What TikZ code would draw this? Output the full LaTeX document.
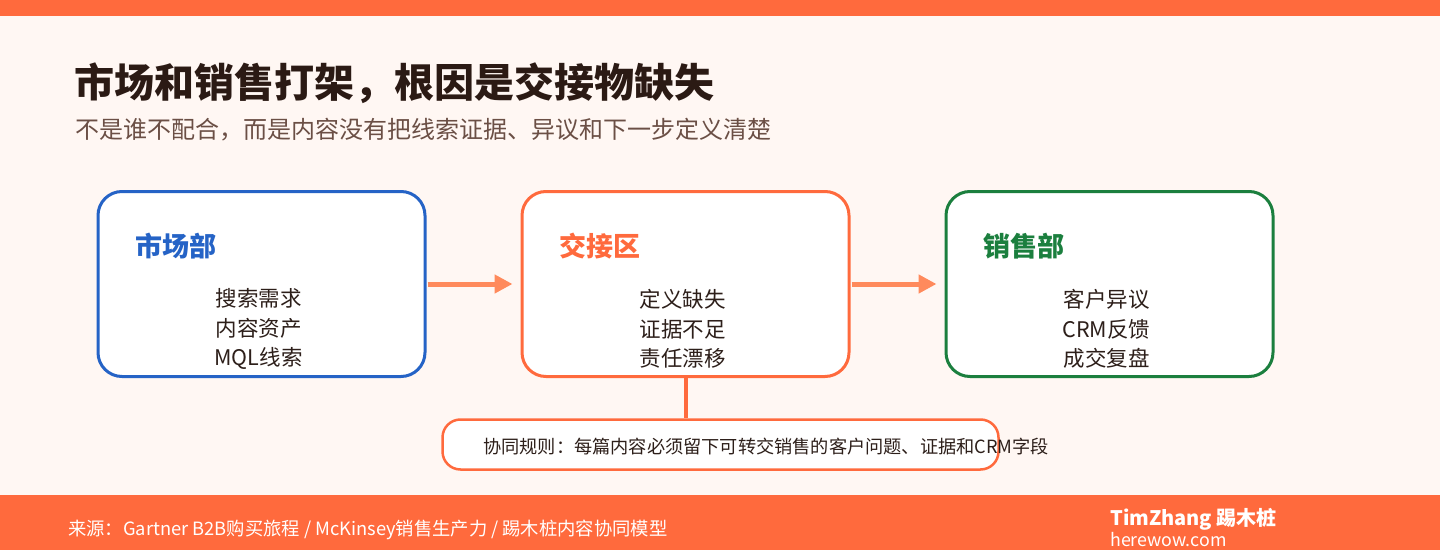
\documentclass[tikz,border=0pt]{standalone}
\usepackage{fontspec}
\setmainfont{Noto Sans CJK SC}
\usetikzlibrary{positioning}
\usetikzlibrary{arrows.meta}

\definecolor{bgpaper}{HTML}{FFF7F3}
\definecolor{barorange}{HTML}{FF6A3D}
\definecolor{arroworange}{HTML}{FF8A5C}
\definecolor{mktblue}{HTML}{2563C6}
\definecolor{salesgreen}{HTML}{1B7F3E}
\definecolor{titlebrown}{HTML}{2B1A14}
\definecolor{subbrown}{HTML}{6B4F45}
\definecolor{itembrown}{HTML}{2D1F1A}

\begin{document}
\begin{tikzpicture}[x=1pt, y=1pt,
        % Standard style for the three department boxes
        deptbox/.style={draw, line width=3pt, fill=white, rounded corners=24pt,
        minimum width=327pt, minimum height=185pt, inner sep=0pt},
        % Heading inside each box
        headtext/.style={font=\fontsize{27}{32}\selectfont\bfseries, anchor=west, inner sep=0pt},
        % Item list inside each box
        itemtext/.style={font=\fontsize{21.5}{29.5}\selectfont, text=itembrown,
        align=center, inner sep=0pt},
        % Flow arrows between boxes
        flow/.style={-{Triangle[length=18pt, width=18pt]}, line width=5pt, draw=arroworange}
    ]

    % --- Canvas and bars ---
    \fill[bgpaper] (0,0) rectangle (1440,550);
    \fill[barorange] (0,534) rectangle (1440,550);
    \fill[barorange] (0,0) rectangle (1440,55);
    \useasboundingbox (0,0) rectangle (1440,550);

    % --- Title block ---
    \node[font=\fontsize{40}{48}\selectfont\bfseries, text=titlebrown, anchor=west, inner sep=0pt]
        (title) at (74,467) {市场和销售打架，根因是交接物缺失};
    \node[font=\fontsize{24}{29}\selectfont, text=subbrown, anchor=west, inner sep=0pt]
        (subtitle) at (75,420) {不是谁不配合，而是内容没有把线索证据、异议和下一步定义清楚};

    % --- Row of boxes ---
    % 1. Marketing
    \node[deptbox, draw=mktblue] (mkt) at (261.5,266) {};
    \node[headtext, text=mktblue] (mkt_head) at ([xshift=39pt, yshift=-56pt]mkt.north west) {市场部};
    \node[itemtext] (mkt_items) at ([xshift=-3pt, yshift=-45pt]mkt.center) {搜索需求\\内容资产\\MQL线索};

    % 2. Handover zone
    \node[deptbox, draw=barorange] (hand) at (685.5,266) {};
    \node[headtext, text=barorange] (hand_head) at ([xshift=39pt, yshift=-56pt]hand.north west) {交接区};
    \node[itemtext] (hand_items) at ([xshift=-3pt, yshift=-45pt]hand.center) {定义缺失\\证据不足\\责任漂移};

    % 3. Sales
    \node[deptbox, draw=salesgreen] (sales) at (1109.5,266) {};
    \node[headtext, text=salesgreen] (sales_head) at ([xshift=39pt, yshift=-56pt]sales.north west) {销售部};
    \node[itemtext] (sales_items) at ([xshift=-3pt, yshift=-45pt]sales.center) {客户异议\\CRM反馈\\成交复盘};

    % --- Arrows ---
    \draw[flow, shorten <=1pt, shorten >=8pt] (mkt.east) -- (hand.west);
    \draw[flow, shorten <=1pt, shorten >=8pt] (hand.east) -- (sales.west);

    % --- Rule box below the handover zone ---
    \node[draw=barorange, line width=2.5pt, fill=white, rounded corners=18pt,
        minimum width=556pt, minimum height=50pt, inner sep=0pt] (rule) at (720.5,105.5) {};
    \draw[barorange, line width=4pt] (hand.south -| 686,0) -- (rule.north -| 686,0);
    \node[font=\fontsize{18.2}{22}\selectfont, text=itembrown, anchor=west, inner sep=0pt]
        (rule_text) at (483,103) {协同规则：每篇内容必须留下可转交销售的客户问题、证据和CRM字段};

    % --- Footer ---
    \node[font=\fontsize{18.3}{22}\selectfont, text=white, anchor=west, inner sep=0pt]
        (source) at (68,20) {来源：Gartner B2B购买旅程 / McKinsey销售生产力 / 踢木桩内容协同模型};
    \node[font=\fontsize{20}{24}\selectfont\bfseries, text=white, anchor=west, inner sep=0pt]
        (brand) at (1110,31) {TimZhang 踢木桩};
    \node[font=\fontsize{17.8}{21}\selectfont, text=white, anchor=west, inner sep=0pt]
        (site) at (1110,10) {herewow.com};

\end{tikzpicture}
\end{document}
